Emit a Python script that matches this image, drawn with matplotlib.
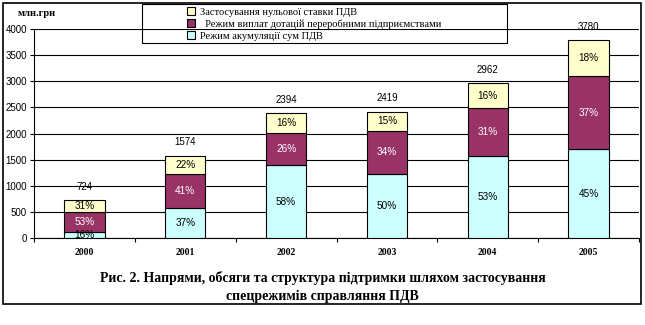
import numpy as np
import matplotlib
matplotlib.use('Agg')
import matplotlib.pyplot as plt
from matplotlib.patches import Rectangle

# Data (млн. грн)
years = ['2000', '2001', '2002', '2003', '2004', '2005']
totals = [724, 1574, 2394, 2419, 2962, 3780]
accum = [116, 582, 1389, 1220, 1570, 1701]     # Режим акумуляції сум ПДВ
subsidy = [384, 645, 622, 835, 918, 1399]      # Режим виплат дотацій
zero_rate = [224, 347, 383, 364, 474, 680]     # Застосування нульової ставки
pct_accum = [16, 37, 58, 50, 53, 45]
pct_subsidy = [53, 41, 26, 34, 31, 37]
pct_zero = [31, 22, 16, 15, 16, 18]

lbl_zero = 'Застосування нульової ставки ПДВ'
lbl_subsidy = '  Режим виплат дотацій переробними підприємствами'
lbl_accum = 'Режим акумуляції сум ПДВ'

c_accum = '#CCFFFF'
c_subsidy = '#993366'
c_zero = '#FFFFCC'

sans = 'Liberation Sans'
serif = 'Liberation Serif'

fig = plt.figure(figsize=(6.45, 3.25), dpi=100)
W, H = 645, 325
ax = fig.add_axes([34 / W, 1 - 238 / H, (639 - 34) / W, (238 - 29) / H])

x = np.arange(len(years))
bw = 0.4
kw = dict(width=bw, edgecolor='black', linewidth=0.8, zorder=3)
b1 = ax.bar(x, accum, color=c_accum, **kw)
b2 = ax.bar(x, subsidy, bottom=accum, color=c_subsidy, **kw)
bottom3 = np.array(accum) + np.array(subsidy)
b3 = ax.bar(x, zero_rate, bottom=bottom3, color=c_zero, **kw)

# percent labels inside the segments
for i in range(len(years)):
    ax.text(x[i], accum[i] / 2, f'{pct_accum[i]}%', ha='center', va='center',
            fontsize=7.2, family=sans, color='black', zorder=4)
    ax.text(x[i], accum[i] + subsidy[i] / 2, f'{pct_subsidy[i]}%', ha='center',
            va='center', fontsize=7.2, family=sans, color='white', zorder=4)
    ax.text(x[i], bottom3[i] + zero_rate[i] / 2, f'{pct_zero[i]}%', ha='center',
            va='center', fontsize=7.2, family=sans, color='black', zorder=4)
    ax.annotate(str(totals[i]), (x[i], totals[i]), xytext=(0, 6),
                textcoords='offset points', ha='center', va='bottom',
                fontsize=7, family=sans, zorder=4)

ax.set_xlim(-0.5, len(years) - 0.5)
ax.set_ylim(0, 4000)
ax.set_yticks(np.arange(0, 4001, 500))
ax.yaxis.grid(True, color='black', linewidth=0.8)
ax.set_axisbelow(True)

ax.set_xticks(x)
ax.set_xticklabels(years, fontsize=7, family=serif, fontweight='bold')
ax.set_xticks(np.arange(-0.5, len(years)), minor=True)
ax.tick_params(axis='x', which='major', length=0, pad=7)
ax.tick_params(axis='x', which='minor', length=3, width=0.8, direction='out')
ax.tick_params(axis='y', length=3, width=0.8, direction='out', pad=2)
for t in ax.get_yticklabels():
    t.set_fontsize(7)
    t.set_family(sans)

for s in ['top', 'right']:
    ax.spines[s].set_visible(False)
for s in ['left', 'bottom']:
    ax.spines[s].set_linewidth(0.8)

fig.text(18 / W, 1 - 14 / H, 'млн.грн', fontsize=7.5, family=serif,
         fontweight='bold', va='center', ha='left')

# legend with its own frame
fig.patches.append(Rectangle((142 / W, 1 - 43 / H), (507 - 142) / W, 39 / H,
                             transform=fig.transFigure, fill=False,
                             edgecolor='black', linewidth=0.8))
leg = fig.legend([b3, b2, b1], [lbl_zero, lbl_subsidy, lbl_accum],
                 loc='upper left', bbox_to_anchor=(187 / W, 1 - 7 / H),
                 frameon=False, prop={'family': serif, 'size': 7.5},
                 handlelength=0.8, handleheight=0.8, handletextpad=0.4,
                 labelspacing=0.25, borderpad=0, borderaxespad=0)

fig.text(0.5, 1 - 278 / H,
         'Рис. 2. Напрями, обсяги та структура підтримки шляхом застосування',
         ha='center', va='center', fontsize=10, family=serif, fontweight='bold')
fig.text(0.5, 1 - 296 / H, 'спецрежимів справляння ПДВ',
         ha='center', va='center', fontsize=10, family=serif, fontweight='bold')

# outer border
fig.patches.append(Rectangle((3 / W, 1 - 304 / H), (641 - 3) / W, 301 / H,
                             transform=fig.transFigure, fill=False,
                             edgecolor='black', linewidth=1.2))

fig.savefig('out.png', dpi=100)
